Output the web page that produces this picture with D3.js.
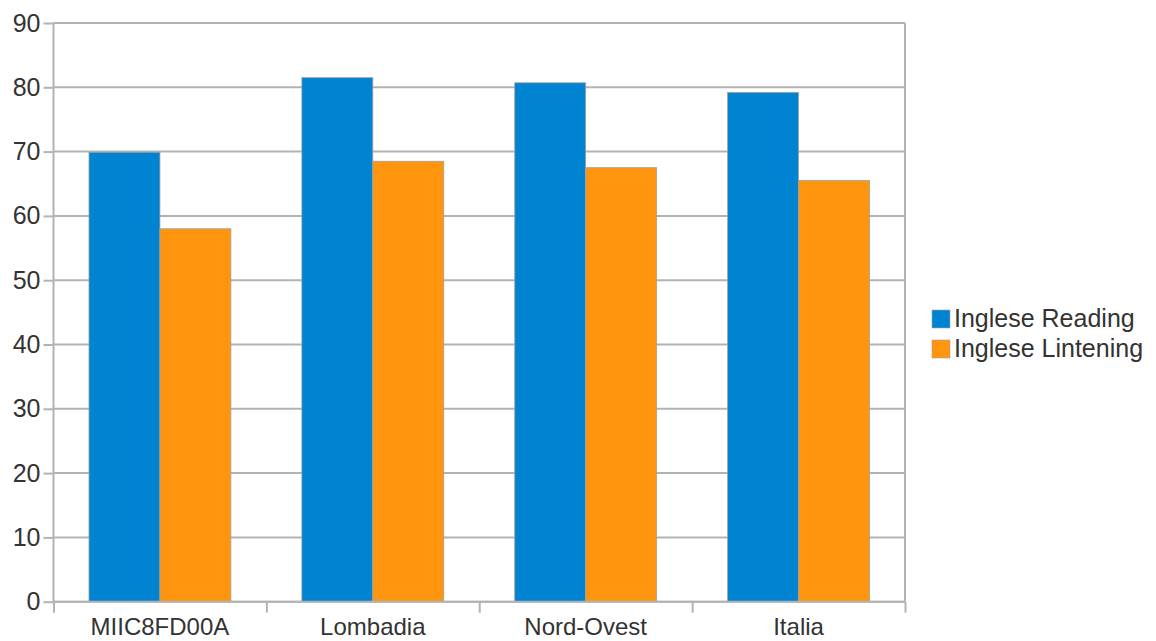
<!DOCTYPE html>
<html>
<head>
<meta charset="utf-8">
<script src="https://cdn.jsdelivr.net/npm/d3@7"></script>
<style>
  html, body { margin: 0; padding: 0; background: #fff; }
  svg { display: block; font-family: "Liberation Sans", Arial, sans-serif; }
</style>
</head>
<body>
<svg id="chart" width="1156" height="641"></svg>
<script>
const categories = ["MIIC8FD00A", "Lombadia", "Nord-Ovest", "Italia"];
const seriesNames = ["Inglese Reading", "Inglese Lintening"];
const readingValues = [69.9, 81.5, 80.7, 79.2];
const listeningValues = [58.0, 68.5, 67.5, 65.5];
const yTicks = [0, 10, 20, 30, 40, 50, 60, 70, 80, 90];
const colors = ["#0084d1", "#ff950e"];

(function () {
const series = [readingValues, listeningValues];

const svg = d3.select("#chart");
const mLeft = 53.5, mRight = 905, mTop = 23, mBottom = 601.7;
const gridColor = "#b3b3b3";
const textColor = "#333333";
const fontSize = 24;

const x0 = d3.scaleBand().domain(categories).range([mLeft, mRight]).paddingInner(0).paddingOuter(0);
const x1 = d3.scaleBand().domain(d3.range(series.length)).range([0, x0.bandwidth()]).paddingInner(0).paddingOuter(0.5);
const y = d3.scaleLinear().domain([0, 90]).range([mBottom, mTop]);

// gridlines
svg.append("g").selectAll("line").data(yTicks).join("line")
  .attr("x1", mLeft).attr("x2", mRight)
  .attr("y1", d => y(d)).attr("y2", d => y(d))
  .attr("stroke", gridColor).attr("stroke-width", 2);

// right border
svg.append("line").attr("x1", mRight).attr("x2", mRight).attr("y1", mTop).attr("y2", mBottom)
  .attr("stroke", gridColor).attr("stroke-width", 2);

// bars
const g = svg.append("g");
categories.forEach((c, i) => {
  series.forEach((vals, s) => {
    g.append("rect")
      .attr("x", x0(c) + x1(s))
      .attr("y", y(vals[i]))
      .attr("width", x1.bandwidth())
      .attr("height", y(0) - y(vals[i]))
      .attr("fill", colors[s])
      .attr("stroke", "#a0a0a0")
      .attr("stroke-width", 0.8);
  });
});

// y axis
const yAxis = svg.append("g").attr("transform", `translate(${mLeft},0)`)
  .call(d3.axisLeft(y).tickValues(yTicks).tickSize(10).tickPadding(3).tickFormat(d3.format("d")));
yAxis.select(".domain").attr("stroke", gridColor).attr("stroke-width", 2).attr("d", `M0,${mTop}V${mBottom}`);
yAxis.selectAll(".tick line").attr("stroke", gridColor).attr("stroke-width", 2);
yAxis.selectAll(".tick text").attr("fill", textColor).style("font-size", "25px")
  .style("font-family", "Liberation Sans, Arial, sans-serif");

// x axis
const xAxisScale = d3.scaleLinear().domain([0, categories.length]).range([mLeft, mRight]);
const xAxis = svg.append("g").attr("transform", `translate(0,${mBottom})`)
  .call(d3.axisBottom(xAxisScale).tickValues(d3.range(categories.length + 1)).tickSize(11).tickFormat(""));
xAxis.select(".domain").attr("stroke", gridColor).attr("stroke-width", 2).attr("d", `M${mLeft},0H${mRight}`);
xAxis.selectAll(".tick line").attr("stroke", gridColor).attr("stroke-width", 2);

svg.append("g").selectAll("text").data(categories).join("text")
  .attr("x", d => x0(d) + x0.bandwidth() / 2)
  .attr("y", 635)
  .attr("text-anchor", "middle")
  .attr("fill", textColor)
  .style("font-size", fontSize + "px")
  .text(d => d);

// legend
const legend = svg.append("g");
seriesNames.forEach((name, i) => {
  const ly = 310 + i * 30;
  legend.append("rect").attr("x", 932).attr("y", ly).attr("width", 18).attr("height", 18)
    .attr("fill", colors[i]).attr("stroke", "#a0a0a0").attr("stroke-width", 0.6);
  legend.append("text").attr("x", 954).attr("y", ly + 17)
    .attr("fill", textColor).style("font-size", "25px").text(name);
});
})();
</script>
</body>
</html>
